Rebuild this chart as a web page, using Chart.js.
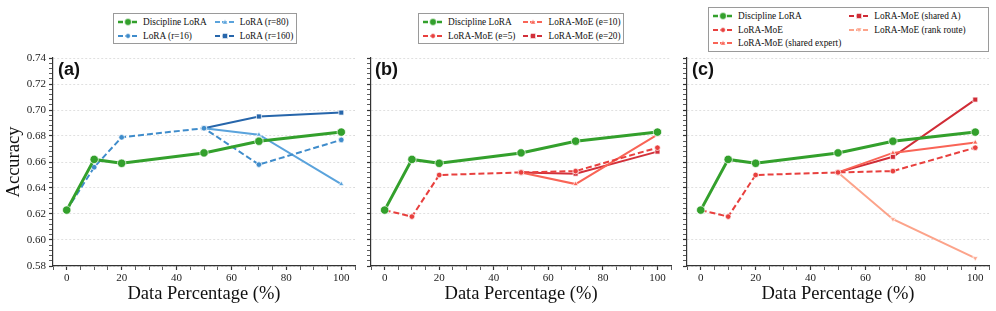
<!DOCTYPE html>
<html><head><meta charset="utf-8">
<script src="https://cdn.jsdelivr.net/npm/chart.js@4/dist/chart.umd.min.js"></script>
<style>
body{margin:0;background:#fff;width:996px;height:311px;overflow:hidden;position:relative;font-family:"Liberation Serif",serif;}
canvas{position:absolute;top:0;}
.legend{position:absolute;box-sizing:border-box;border:1px solid #9a9a9a;background:#fff;padding:1px 4px 1px 4px;display:grid;grid-auto-flow:column;column-gap:8px;font:9.3px "Liberation Serif",serif;color:#111;}
.item{display:flex;align-items:center;height:13.7px;white-space:nowrap}
.item svg{margin-right:5px;flex:none}
.plabel{position:absolute;top:59px;font:bold 18px "Liberation Sans",sans-serif;color:#111;}
</style></head><body>
<canvas id="ca" width="360" height="311" style="left:0px"></canvas>
<canvas id="cb" width="316" height="311" style="left:360px"></canvas>
<canvas id="cc" width="320" height="311" style="left:676px"></canvas>
<div class="plabel" style="left:58px">(a)</div>
<div class="plabel" style="left:375px">(b)</div>
<div class="plabel" style="left:692px">(c)</div>
<script>
// ---- data ----
const xPct = [0, 10, 20, 50, 70, 100];
const xLate = [50, 70, 100];
const disciplineLoRA = [0.623, 0.662, 0.659, 0.667, 0.676, 0.683];
const loraR16 = [0.623, 0.656, 0.679, 0.686, 0.658, 0.677];
const loraR80 = [0.686, 0.681, 0.643];
const loraR160 = [0.686, 0.695, 0.698];
const moeE5 = [0.623, 0.618, 0.650, 0.652, 0.653, 0.671];
const moeE10 = [0.652, 0.643, 0.681];
const moeE20 = [0.652, 0.651, 0.668];
const loraMoE = [0.623, 0.618, 0.650, 0.652, 0.653, 0.671];
const moeSharedExpert = [0.652, 0.667, 0.675];
const moeSharedA = [0.652, 0.664, 0.708];
const moeRankRoute = [0.652, 0.616, 0.586];
const xTickLabels = ['0', '20', '40', '60', '80', '100'];
const yTickLabels = ['0.58','0.60','0.62','0.64','0.66','0.68','0.70','0.72','0.74'];

const GREEN = '#33a02c';
function S(label, xs, ys, color, style) {
  return Object.assign({label, xs, ys, color, width: 2, dash: [], marker: 'circle', r: 2.8, rot: 0}, style || {});
}
const disc = () => S('Discipline LoRA', xPct, disciplineLoRA, GREEN, {width: 3, r: 4.2});
const panels = [
  {id: 'ca', yW: 53, right: 5, yTitle: true, legend: {left: 113, top: 13, rows: 2, width: 184},
   series: [disc(),
     S('LoRA (r=16)', xPct, loraR16, '#3f8ccb', {dash: [6, 3]}),
     S('LoRA (r=80)', xLate, loraR80, '#5aa3dc', {marker: 'triangle', r: 3}),
     S('LoRA (r=160)', xLate, loraR160, '#2766ab', {marker: 'rect', r: 3.5})]},
  {id: 'cb', yW: 11, right: 4, yTitle: false, legend: {left: 418, top: 13, rows: 2, width: 206},
   series: [disc(),
     S('LoRA-MoE (e=5)', xPct, moeE5, '#e8403e', {dash: [6, 3]}),
     S('LoRA-MoE (e=10)', xLate, moeE10, '#f96456', {marker: 'triangle', r: 3}),
     S('LoRA-MoE (e=20)', xLate, moeE20, '#d2303a', {marker: 'rect', r: 3.5})]},
  {id: 'cc', yW: 11, right: 7, yTitle: false, legend: {left: 708, top: 7, rows: 3, width: 281},
   series: [disc(),
     S('LoRA-MoE', xPct, loraMoE, '#e8403e', {dash: [6, 3]}),
     S('LoRA-MoE (shared expert)', xLate, moeSharedExpert, '#f96456', {marker: 'triangle', r: 3}),
     S('LoRA-MoE (shared A)', xLate, moeSharedA, '#d02c36', {marker: 'rect', r: 3.5}),
     S('LoRA-MoE (rank route)', xLate, moeRankRoute, '#fca38a', {marker: 'triangle', r: 3, rot: 180})]}
];

function isMajorY(v) { return yTickLabels.includes(v.toFixed(2)) && Math.abs(v * 50 - Math.round(v * 50)) < 1e-6; }
function svgFor(s) {
  const c = s.color, w = s.width === 3 ? 2.6 : 1.8;
  let m = '';
  const cx = 10, cy = 5;
  if (s.marker === 'circle') m = `<circle cx="${cx}" cy="${cy}" r="${s.width === 3 ? 3.4 : 2.4}" fill="${c}" stroke="#fff" stroke-width="0.6"/>`;
  else if (s.marker === 'rect') m = `<rect x="${cx-2.6}" y="${cy-2.6}" width="5.2" height="5.2" fill="${c}" stroke="#fff" stroke-width="0.6"/>`;
  else if (s.rot === 180) m = `<polygon points="${cx-2.6},${cy-2} ${cx+2.6},${cy-2} ${cx},${cy+2.4}" fill="${c}" stroke="#fff" stroke-width="0.5"/>`;
  else m = `<polygon points="${cx-2.6},${cy+2} ${cx+2.6},${cy+2} ${cx},${cy-2.4}" fill="${c}" stroke="#fff" stroke-width="0.5"/>`;
  return `<svg width="20" height="10"><line x1="0" y1="5" x2="20" y2="5" stroke="${c}" stroke-width="${w}" stroke-dasharray="5,2"/>${m}</svg>`;
}

panels.forEach(p => {
  const lg = document.createElement('div');
  lg.className = 'legend';
  lg.style.left = p.legend.left + 'px';
  lg.style.top = p.legend.top + 'px';
  lg.style.width = p.legend.width + 'px';
  lg.style.gridTemplateRows = `repeat(${p.legend.rows}, auto)`;
  lg.style.gridTemplateColumns = 'max-content max-content';
  p.series.forEach(s => {
    const it = document.createElement('div');
    it.className = 'item';
    it.innerHTML = svgFor(s);
    const t = document.createElement('span');
    t.textContent = s.label;
    it.appendChild(t);
    lg.appendChild(it);
  });
  document.body.appendChild(lg);

  const datasets = p.series.map(s => ({
    label: s.label,
    data: s.xs.map((x, i) => ({x, y: s.ys[i]})),
    borderColor: s.color,
    backgroundColor: s.color,
    borderWidth: s.width,
    borderDash: s.dash,
    pointStyle: s.marker,
    pointRotation: s.rot,
    pointRadius: s.r,
    pointBackgroundColor: s.color,
    pointBorderColor: '#ffffff',
    pointBorderWidth: 0.7,
    tension: 0,
    fill: false
  }));

  new Chart(document.getElementById(p.id), {
    type: 'line',
    data: {datasets},
    options: {
      responsive: false, animation: false, devicePixelRatio: 1,
      layout: {padding: {top: 58, right: p.right, left: 0, bottom: 0}},
      plugins: {legend: {display: false}, tooltip: {enabled: false}},
      scales: {
        x: {
          type: 'linear', min: -5, max: 105,
          border: {color: '#333', width: 1.2},
          grid: {drawOnChartArea: false, color: '#333', tickColor: '#333', tickLength: 4,
                 tickWidth: c => (c.tick && c.tick.value % 20 === 0) ? 1.2 : 0.8},
          ticks: {stepSize: 5, autoSkip: false, maxRotation: 0, padding: 2, color: '#222',
                  font: {family: 'Liberation Serif', size: 11},
                  callback: v => xTickLabels.includes(String(v)) ? String(v) : ''},
          title: {display: true, text: 'Data Percentage (%)', color: '#111',
                  font: {family: 'Liberation Serif', size: 18.5}, padding: {top: 0, bottom: 6}},
          afterFit: s => { s.height = 45; }
        },
        y: {
          min: 0.58, max: 0.74,
          border: {color: '#333', width: 1.2, dash: [2, 2]},
          grid: {color: c => (c.tick && isMajorY(c.tick.value)) ? '#d9d9d9' : 'rgba(0,0,0,0)',
                 lineWidth: 0.8, tickColor: '#333', tickLength: 4, tickBorderDash: [],
                 tickWidth: c => (c.tick && isMajorY(c.tick.value)) ? 1.2 : 0.8},
          ticks: {stepSize: 0.004, autoSkip: false, padding: 3, color: '#222',
                  font: {family: 'Liberation Serif', size: 11},
                  callback: v => (p.yTitle && isMajorY(v)) ? v.toFixed(2) : ''},
          title: {display: p.yTitle, text: 'Accuracy', color: '#111',
                  font: {family: 'Liberation Serif', size: 18.5}, padding: {top: 3, bottom: 0}},
          afterFit: s => { s.width = p.yW; }
        }
      }
    }
  });
});
</script>
</body></html>
